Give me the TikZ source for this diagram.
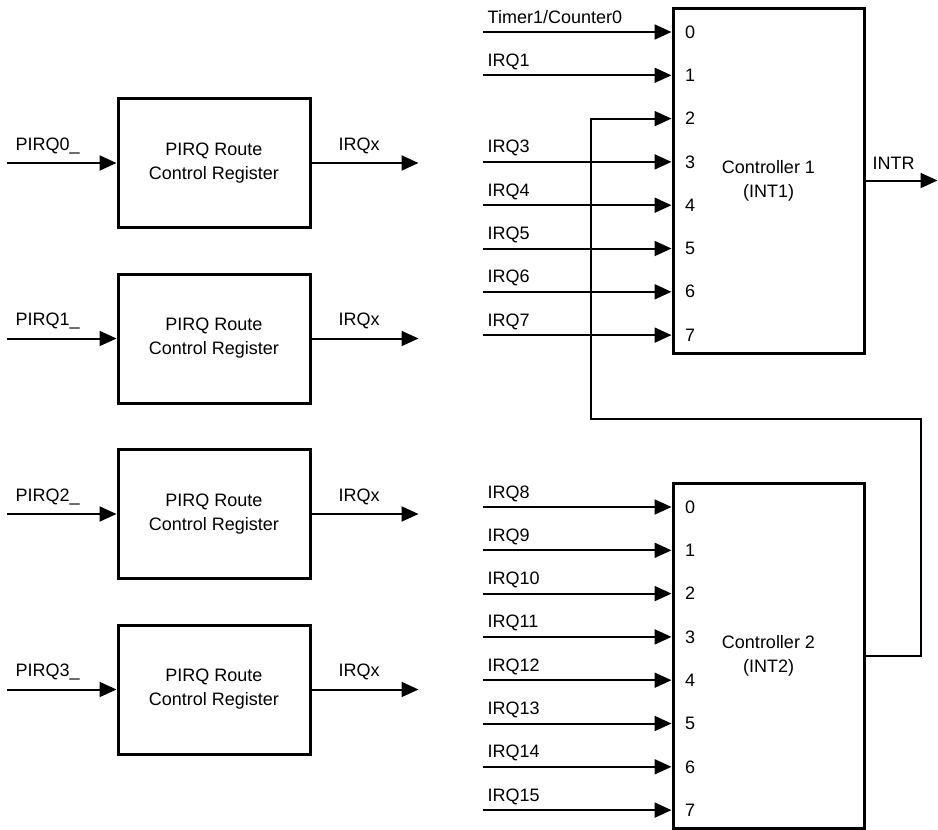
\documentclass[tikz,border=0pt]{standalone}
\usepackage{fontspec}
\setmainfont{Liberation Sans}
\usetikzlibrary{arrows.meta, positioning, calc}
\tikzset{
    route node/.style={rectangle, draw=black, line width=3pt, minimum width=192pt, minimum height=129pt, align=center, font=\fontsize{18}{24}\selectfont},
    controller node/.style={rectangle, draw=black, line width=3pt, minimum width=191pt, minimum height=345pt, align=center, font=\fontsize{18}{24}\selectfont},
    signal arrow/.style={-{Triangle[length=17pt, width=15pt]}, line width=2pt, black},
    signal label/.style={anchor=base west, inner sep=0pt, font=\fontsize{18}{22}\selectfont},
    port label/.style={anchor=west, inner sep=0pt, font=\fontsize{18}{22}\selectfont},
}

\begin{document}
\begin{tikzpicture}[x=1pt, y=-1pt]
        \useasboundingbox (0,0) rectangle (938,830);
        \node[route node] (route0) at (214,163) {PIRQ Route\\Control Register};
        \node[route node, below=43.5pt of route0] (route1) {PIRQ Route\\Control Register};
        \node[route node, below=43.5pt of route1] (route2) {PIRQ Route\\Control Register};
        \node[route node, below=43.5pt of route2] (route3) {PIRQ Route\\Control Register};
        \foreach \k in {0,...,3} {
            \coordinate (pirq\k) at ($(route\k.west)+(-110,0)$);
            \coordinate (irqx\k) at ($(route\k.east)+(107,0)$);
            \draw[signal arrow] (pirq\k) -- (route\k.west);
            \draw[signal arrow] (route\k.east) -- (irqx\k);
            \node[signal label] at ($(pirq\k)+(9,-13)$) {PIRQ\k\_};
            \node[signal label] at ($(route\k.east)+(27,-13)$) {IRQx};
        }
        % interrupt controllers
        \node[controller node] (ctl1) at (768.5,180.5) {Controller 1\\(INT1)};
        \node[controller node] (ctl2) at (768.5,655.5) {Controller 2\\(INT2)};
        \foreach \k in {0,...,7} {
            \coordinate (c1p\k) at ($(ctl1.west)+(0,{-148.5+43.3*\k})$);
            \coordinate (c2p\k) at ($(ctl2.west)+(0,{-148.5+43.3*\k})$);
            \node[port label] at ($(c1p\k)+(13.5,0)$) {\k};
            \node[port label] at ($(c2p\k)+(13.5,0)$) {\k};
        }
        \coordinate (c1in0) at ($(c1p0)+(-189,0)$);
        \draw[signal arrow] (c1in0) -- (c1p0);
        \node[signal label] at ($(c1in0)+(5,-9)$) {Timer1/Counter0};
        \foreach \k in {1,3,4,5,6,7} {
            \coordinate (c1in\k) at ($(c1p\k)+(-189,0)$);
            \draw[signal arrow] (c1in\k) -- (c1p\k);
            \node[signal label] at ($(c1in\k)+(5,-9)$) {IRQ\k};
        }
        \foreach \k [evaluate=\k as \n using int(\k+8)] in {0,...,7} {
            \coordinate (c2in\k) at ($(c2p\k)+(-189,0)$);
            \draw[signal arrow] (c2in\k) -- (c2p\k);
            \node[signal label] at ($(c2in\k)+(5,-9)$) {IRQ\n};
        }
        % cascade from INT2 into input 2 of INT1
        \coordinate (fbr) at (921,419);
        \coordinate (fbl) at (591,419);
        \draw[signal arrow] (ctl2.east) -| (fbr) -- (fbl) |- (c1p2);
        \coordinate (intr) at ($(ctl1.east)+(72,0)$);
        \draw[signal arrow] (ctl1.east) -- (intr);
        \node[signal label] at ($(ctl1.east)+(7,-11)$) {INTR};
    \end{tikzpicture}
\end{document}
